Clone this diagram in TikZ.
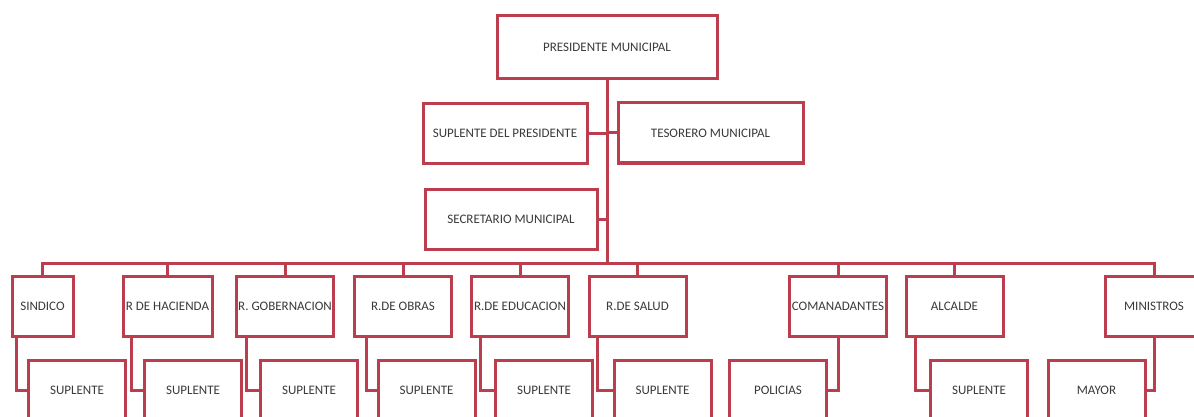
\documentclass[tikz,border=0pt]{standalone}
\usepackage{fontspec}
\setmainfont{Carlito}
\definecolor{rojo}{RGB}{188,62,78}
\definecolor{gris}{RGB}{58,58,58}

\tikzstyle{box}=[rectangle,draw=rojo,line width=3pt,fill=white,inner sep=1pt,text=gris,font=\fontsize{13}{15}\selectfont,minimum width=97pt,minimum height=60pt]
\tikzstyle{edgeStyle}=[draw=rojo,line width=3pt]

\begin{document}
\begin{tikzpicture}[x=1pt, y=-1pt]

	\useasboundingbox (0,0) rectangle (1194,417);
	\clip (0,0) rectangle (1194,417);

	% Nivel superior
	\node(pres) at (607,47.5) [box, minimum width=220pt, minimum height=63pt] {PRESIDENTE MUNICIPAL};
	\node(supPres) at (505,133.5) [box, minimum width=164pt] {SUPLENTE DEL PRESIDENTE};
	\node(tes) at (710.5,133) [box, minimum width=185pt] {TESORERO MUNICIPAL};
	\node(sec) at (511,219) [box, minimum width=172pt] {SECRETARIO MUNICIPAL};
	\coordinate(bus) at (607,263);

	% Regidores
	\node(sindico) at (42.5,306) [box, minimum width=61pt] {SINDICO};
	\node(hacienda) at (167.5,306) [box, minimum width=89pt] {R DE HACIENDA};
	\node(gob) at (285,306) [box] {R. GOBERNACION};
	\node(obras) at (403,306) [box] {R.DE OBRAS};
	\node(edu) at (520,306) [box] {R.DE EDUCACION};
	\node(salud) at (637.5,306) [box] {R.DE SALUD};
	\node(coman) at (838,306) [box] {COMANADANTES};
	\node(alcalde) at (954.5,306) [box] {ALCALDE};
	\node(ministros) at (1154,306) [box] {MINISTROS};

	% Suplentes
	\node(sup1) at (77,390) [box] {SUPLENTE};
	\node(sup2) at (193,390) [box] {SUPLENTE};
	\node(sup3) at (309,390) [box] {SUPLENTE};
	\node(sup4) at (426.5,390) [box] {SUPLENTE};
	\node(sup5) at (544,390) [box] {SUPLENTE};
	\node(sup6) at (662.5,390) [box] {SUPLENTE};
	\node(policias) at (778,390) [box] {POLICIAS};
	\node(sup7) at (979,390) [box] {SUPLENTE};
	\node(mayor) at (1096.5,390) [box] {MAYOR};

	\draw[edgeStyle] (pres.south) -- (bus);
	\draw[edgeStyle] (supPres.east) -- (supPres.east -| pres.south);
	\draw[edgeStyle] (tes.west) -- (tes.west -| pres.south);
	\draw[edgeStyle] (sec.east) -- (sec.east -| pres.south);
	\draw[edgeStyle] (sindico.north) |- (bus) -| (ministros.north);
	\foreach \n in {hacienda,gob,obras,edu,salud,coman,alcalde}
		{
			\draw[edgeStyle] (\n.north) -- (\n.north |- bus);
		}

	\draw[edgeStyle] (sup1.west) -| ([xshift=6pt]sindico.south west);
	\draw[edgeStyle] (sup2.west) -| ([xshift=10pt]hacienda.south west);
	\draw[edgeStyle] (sup3.west) -| ([xshift=11pt]gob.south west);
	\draw[edgeStyle] (sup4.west) -| ([xshift=13pt]obras.south west);
	\draw[edgeStyle] (sup5.west) -| ([xshift=10pt]edu.south west);
	\draw[edgeStyle] (sup6.west) -| ([xshift=10pt]salud.south west);
	\draw[edgeStyle] (policias.east) -| (coman.south);
	\draw[edgeStyle] (sup7.west) -| ([xshift=11pt]alcalde.south west);
	\draw[edgeStyle] (mayor.east) -| (ministros.south);

\end{tikzpicture}
\end{document}
